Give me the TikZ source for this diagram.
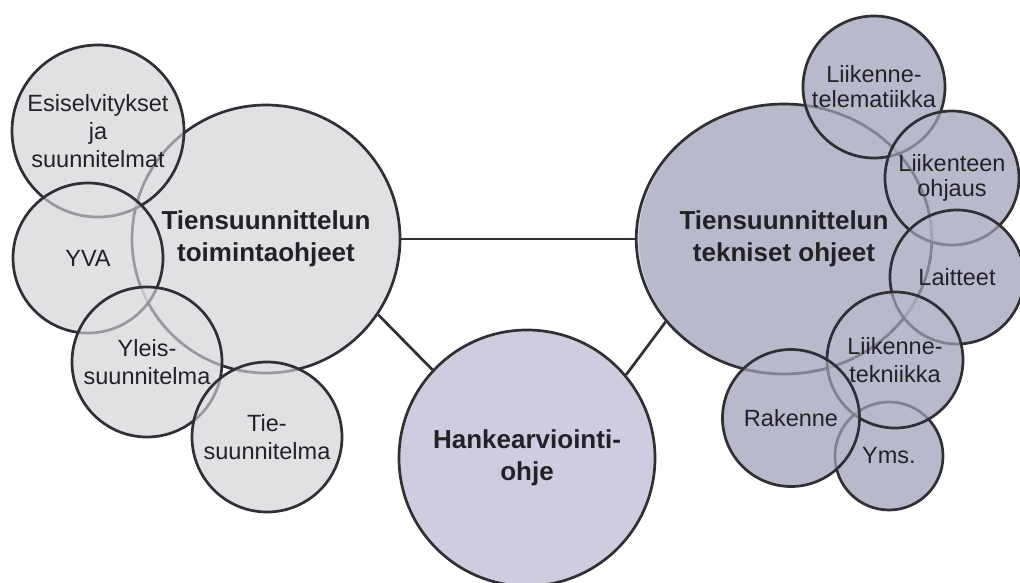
\documentclass[tikz,border=0pt]{standalone}
\usepackage{fontspec}
\setmainfont{Liberation Sans}
\usetikzlibrary{shapes.geometric}

\definecolor{edge}{HTML}{2F2F35}
\definecolor{ink}{HTML}{222226}
\definecolor{greyfill}{HTML}{E1E1E3}
\definecolor{lilacfill}{HTML}{B9B9CC}
\definecolor{palelilac}{HTML}{CDCDDF}

\tikzset{
  bubble/.style={circle, draw=edge, line width=2.7pt, inner sep=0pt,
    align=center, fill opacity=0.6, text opacity=1, text=ink},
  grey/.style={bubble, fill=greyfill},
  lilac/.style={bubble, fill=lilacfill},
  small/.style={font=\fontsize{23.5}{28}\selectfont},
  tight/.style={font=\fontsize{23.5}{25}\selectfont},
  big/.style={font=\fontsize{26}{32}\selectfont\bfseries},
  link/.style={draw=edge, line width=2.7pt},
}

\begin{document}
\begin{tikzpicture}[x=1pt,y=-1pt]
\useasboundingbox (0,0) rectangle (1020,583);

% opaque underlay, so the translucent bubbles only lighten the outlines beneath them
\fill[greyfill] (266,239) circle[radius=134pt]
  (98,131) circle[radius=86pt] (88,258) circle[radius=75pt]
  (147,362) circle[radius=75pt] (267,437) circle[radius=75pt];
\fill[lilacfill] (784,239) ellipse[x radius=145pt, y radius=135pt]
  (874,87) circle[radius=71pt] (952,178) circle[radius=67pt]
  (957,277) circle[radius=67pt] (889,456) circle[radius=54pt]
  (895,360) circle[radius=68pt] (791,418) circle[radius=68.5pt];

% planning operations cluster
\node[grey, big, minimum size=268pt] (toim) at (266,239) {Tiensuunnittelun\\toimintaohjeet};
\node[grey, small, minimum size=172pt] (esisel) at (98,131) {Esiselvitykset\\ja\\suunnitelmat};
\node[grey, small, minimum size=150pt] (yva) at (88,258) {YVA};
\node[grey, small, minimum size=150pt] (yleis) at (147,362) {Yleis-\\suunnitelma};
\node[grey, small, minimum size=150pt] (tie) at (267,437) {Tie-\\suunnitelma};

% project appraisal guide
\node[bubble, fill=palelilac, fill opacity=1, big, minimum size=256pt] (hanke) at (527,458) {Hankearviointi-\\ohje};

% technical guidelines cluster
\node[lilac, ellipse, big, minimum width=290pt, minimum height=270pt] (tek) at (784,239) {Tiensuunnittelun\\tekniset ohjeet};
\node[lilac, tight, minimum size=142pt] (telem) at (874,87) {Liikenne-\\telematiikka};
\node[lilac, tight, minimum size=134pt] (ohjaus) at (952,178) {Liikenteen\\ohjaus};
\node[lilac, small, minimum size=134pt] (laitteet) at (957,277) {Laitteet};
\node[lilac, small, minimum size=108pt] (yms) at (889,456) {Yms.};
\node[lilac, small, minimum size=136pt] (tekniikka) at (895,360) {Liikenne-\\tekniikka};
\node[lilac, small, minimum size=137pt] (rakenne) at (791,418) {Rakenne};

% connectors between the three main guides
\draw[link] (toim.east) -- (tek.west);
\draw[link] (toim.-34) -- (hanke.137);
\draw[link] (hanke.40) -- (tek.215);
\end{tikzpicture}
\end{document}
